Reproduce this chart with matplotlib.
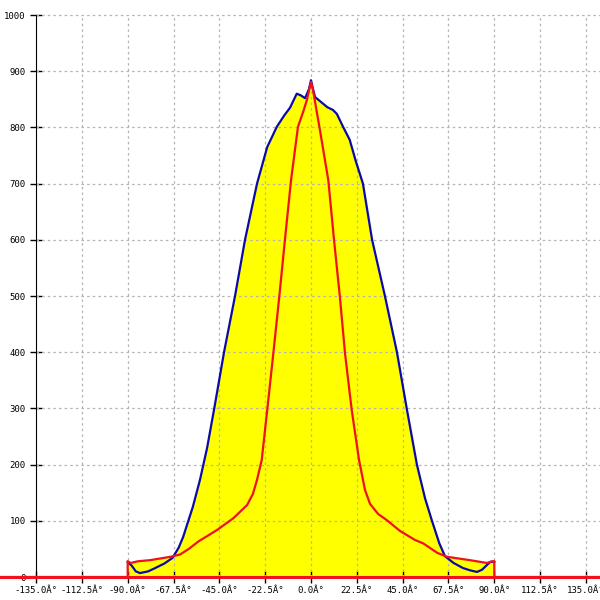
import numpy as np
import matplotlib.pyplot as plt

# C0 plane (blue) - angle in degrees, intensity
blue_deg = [-90, -88, -86, -84, -80, -77.6, -72, -68, -65, -62.8, -58, -54.5,
            -51, -47.5, -42.7, -37.3, -32.4, -26.5, -21.5, -16.8, -13, -10.3,
            -7, -5, -2.9, -1, 0, 1, 2, 5, 8, 10.8, 12.7, 15.9, 19, 22, 25.5,
            30, 36.3, 42.2, 47, 52, 56, 59.4, 63, 65.8, 70, 74.6, 78, 81.5, 84,
            86, 88, 90]
blue_val = [27, 20, 10, 7, 10, 14, 24, 34, 52, 71, 125, 173,
            230, 300, 400, 500, 600, 700, 765, 801, 822, 835,
            860, 857, 852, 868, 884, 868, 854, 845, 836, 831, 824, 800, 778,
            740, 700, 600, 500, 400, 300, 200, 140, 100, 60, 37, 25, 16, 12, 9,
            13, 20, 27, 27]

# C90 plane (red)
red_deg = [-155, -90.01, -90, -88.5, -85, -79, -69, -64.3, -60, -55, -50,
           -46, -38, -31.4, -28.5, -26.5, -24.2, -21.5, -18.5, -15.6, -12.8,
           -9.8, -6.4, -3.9, -2, 0, 1, 4.4, 8.5, 11.3, 14.2, 16.7, 20, 23.6,
           26.5, 29, 33, 37.3, 43.7, 51, 55, 62, 66.8, 78, 86.4, 89, 90, 90.01,
           145]
red_val = [0, 0, 28, 25, 28, 30, 36, 40, 50, 64, 75,
           84, 105, 128, 148, 173, 208, 297, 398, 498, 600,
           706, 801, 827, 849, 881, 866, 795, 706, 600, 498, 398, 297, 208,
           155, 130, 112, 101, 82, 66, 60, 43, 36, 30, 25, 28, 28, 0,
           0]

x_ticks = np.arange(-135, 135.1, 22.5)
y_ticks = np.arange(0, 1001, 100)

fig = plt.figure(figsize=(6, 6), dpi=100)
ax = fig.add_axes([0, 0, 1, 1])
ax.set_xlim(-152.7, 141.9)
ax.set_ylim(-40.9, 1026.7)

# yellow fill under both curves
ax.fill_between(blue_deg, 0, blue_val, color="#ffff00", lw=0, zorder=1)
ax.fill_between(red_deg, 0, red_val, color="#ffff00", lw=0, zorder=1)

# dashed grid
ax.vlines(x_ticks[1:], 0, 1000, colors="#b4b4b4", linestyles=(0, (2, 2.5)),
          lw=0.9, zorder=2)
ax.hlines(y_ticks[1:], -135, 141.9, colors="#b4b4b4", linestyles=(0, (2, 2.5)),
          lw=0.9, zorder=2)

ax.plot(blue_deg, blue_val, color="#0a0aa8", lw=1.6, zorder=3)
ax.plot(red_deg, red_val, color="#f01020", lw=1.6, zorder=4)
ax.axhline(0, color="#f01020", lw=2.2, zorder=4)

for s in ["top", "right"]:
    ax.spines[s].set_visible(False)
ax.spines["left"].set_position(("data", -135))
ax.spines["left"].set_bounds(0, 1000)
ax.spines["bottom"].set_position(("data", 0))
ax.spines["bottom"].set_color("#f01020")

ax.set_xticks(x_ticks)
ax.set_xticklabels([f"{v:.1f}Â°" for v in x_ticks])
ax.set_yticks(y_ticks)
ax.set_yticklabels([str(v) for v in y_ticks])
ax.tick_params(axis="both", direction="inout", length=9, width=1,
               color="black", labelsize=6.5, zorder=5)
ax.tick_params(axis="x", pad=2)
ax.tick_params(axis="y", pad=3)
for lab in ax.get_xticklabels() + ax.get_yticklabels():
    lab.set_family("DejaVu Sans Mono")

fig.savefig("out.png", dpi=100)
